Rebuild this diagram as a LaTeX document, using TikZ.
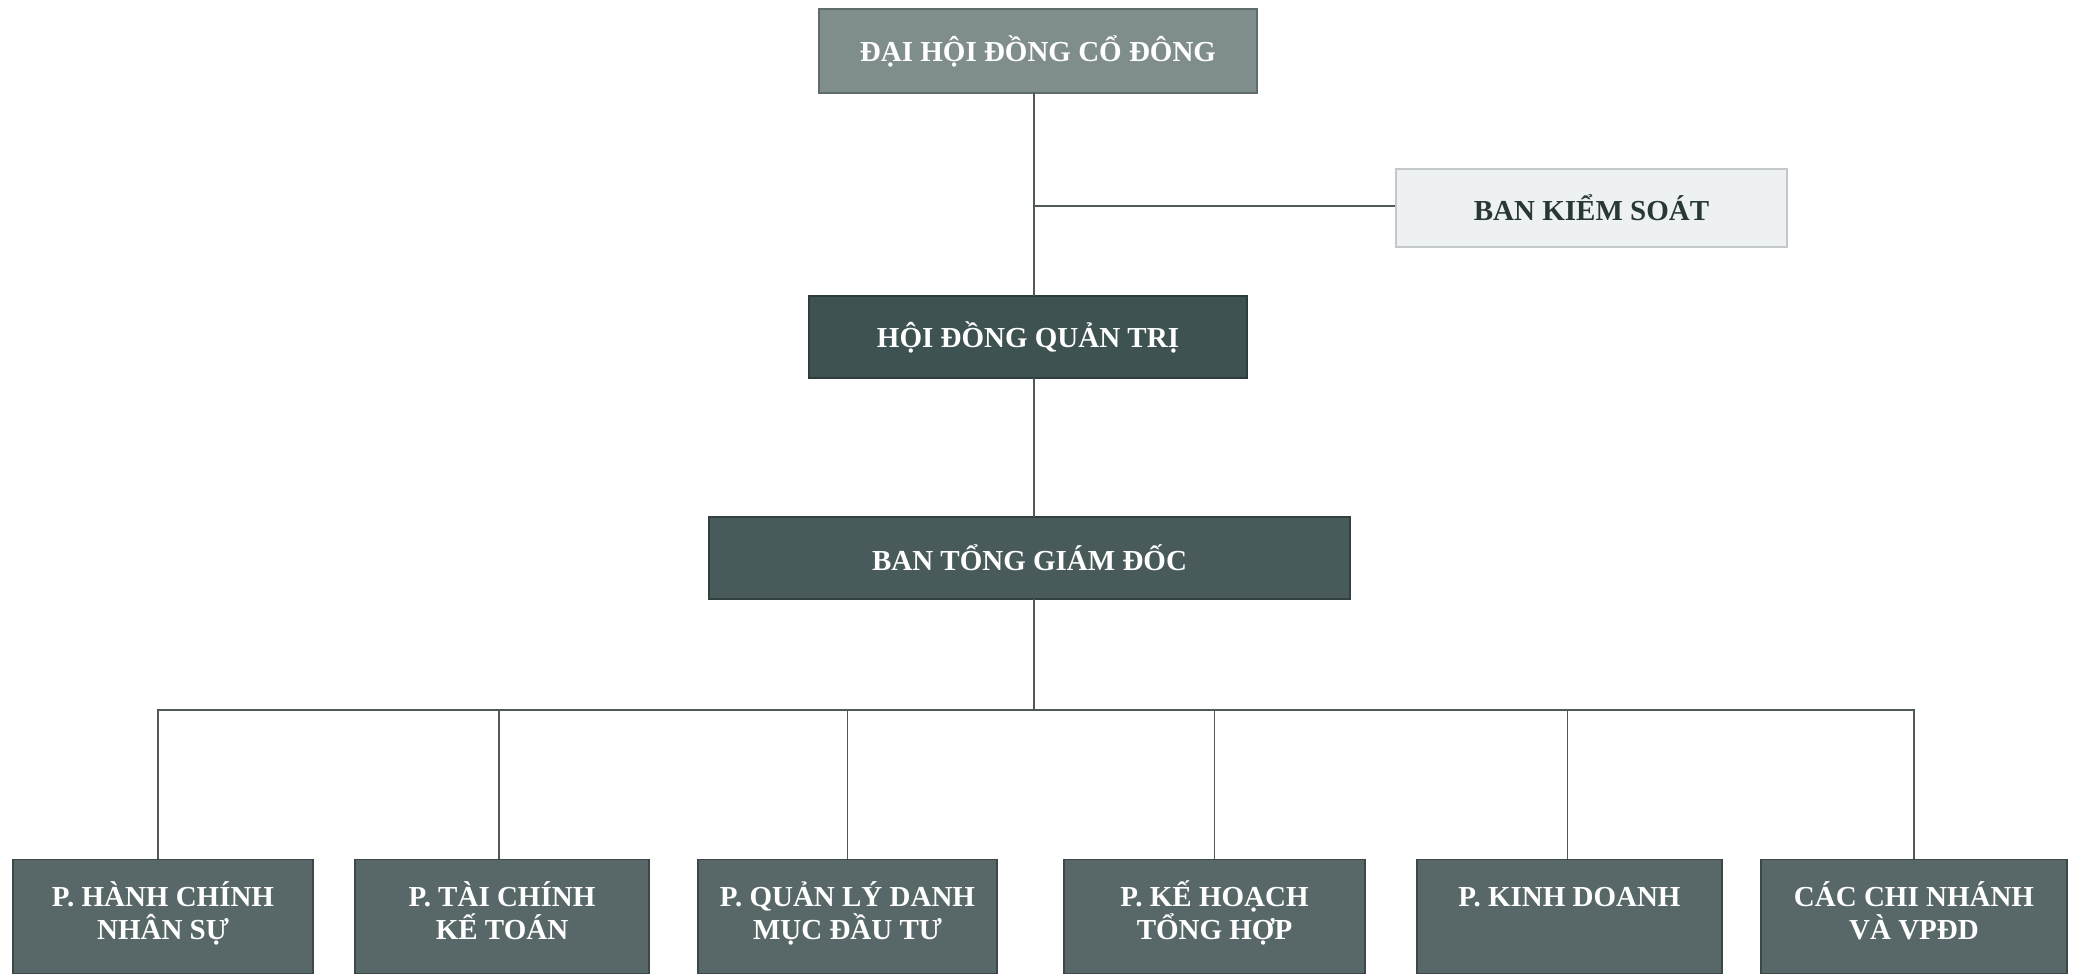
\documentclass[tikz,border=0pt]{standalone}
\usepackage{fontspec}
\setmainfont{Liberation Serif}
\begin{document}
\begin{tikzpicture}[x=1pt,y=-1pt,
  boxbase/.style={rectangle,inner sep=0pt,line width=1.2pt},
  topbox/.style={boxbase,fill=cTop,draw=cTopB},
  ksbox/.style={boxbase,fill=cKS,draw=cKSB},
  hdbox/.style={boxbase,fill=cHD,draw=cHDB},
  tgbox/.style={boxbase,fill=cTG,draw=cTGB},
  depbox/.style={boxbase,fill=cDep,draw=cDepB},
  lbl/.style={font=\fontsize{29}{33}\selectfont\bfseries,text=white,inner sep=0pt,align=center},
  conn/.style={draw=cLine,line width=1.8pt}]
\definecolor{cTop}{RGB}{128,141,141}
\definecolor{cTopB}{RGB}{95,108,108}
\definecolor{cKS}{RGB}{238,241,242}
\definecolor{cKSB}{RGB}{195,200,202}
\definecolor{cHD}{RGB}{62,82,82}
\definecolor{cHDB}{RGB}{45,60,60}
\definecolor{cTG}{RGB}{72,90,90}
\definecolor{cTGB}{RGB}{50,64,64}
\definecolor{cDep}{RGB}{88,104,104}
\definecolor{cDepB}{RGB}{60,72,72}
\definecolor{cLine}{RGB}{80,88,88}
\definecolor{cKSText}{RGB}{40,55,55}
\useasboundingbox[fill=white] (0,0) rectangle (2082,974);

% top level boxes
\node[topbox,minimum width=438pt,minimum height=84pt] (dh) at (1038,51) {};
\node[lbl] (dht) at (dh.center) {ĐẠI HỘI ĐỒNG CỔ ĐÔNG};
\node[ksbox,minimum width=391pt,minimum height=78pt] (ks) at (1591.5,208) {};
\node[lbl,text=cKSText] (kst) at (ks.center) {BAN KIỂM SOÁT};
\node[hdbox,minimum width=438pt,minimum height=82pt] (hd) at (1028,337) {};
\node[lbl] (hdt) at (hd.center) {HỘI ĐỒNG QUẢN TRỊ};
\node[tgbox,minimum width=641pt,minimum height=82pt] (tg) at (1029.5,558) {};
\node[lbl] (tgt) at (tg.center) {BAN TỔNG GIÁM ĐỐC};

% department boxes
\node[depbox,minimum width=300pt,minimum height=114pt,anchor=north] (d1) at (163,859) {};
\node[depbox,minimum width=294pt,minimum height=114pt,anchor=north] (d2) at (502,859) {};
\node[depbox,minimum width=299pt,minimum height=114pt,anchor=north] (d3) at (847.5,859) {};
\node[depbox,minimum width=301pt,minimum height=114pt,anchor=north] (d4) at (1214.5,859) {};
\node[depbox,minimum width=305pt,minimum height=114pt,anchor=north] (d5) at (1569.5,859) {};
\node[depbox,minimum width=306pt,minimum height=114pt,anchor=north] (d6) at (1914,859) {};

% two-line labels: base anchor is the last line's baseline
\node[lbl,anchor=base] (d1t) at ([yshift=-80pt]d1.north) {P. HÀNH CHÍNH\\NHÂN SỰ};
\node[lbl,anchor=base] (d2t) at ([yshift=-80pt]d2.north) {P. TÀI CHÍNH\\KẾ TOÁN};
\node[lbl,anchor=base] (d3t) at ([yshift=-80pt]d3.north) {P. QUẢN LÝ DANH\\MỤC ĐẦU TƯ};
\node[lbl,anchor=base] (d4t) at ([yshift=-80pt]d4.north) {P. KẾ HOẠCH\\TỔNG HỢP};
\node[lbl,anchor=base] (d5t) at ([yshift=-47pt]d5.north) {P. KINH DOANH};
\node[lbl,anchor=base] (d6t) at ([yshift=-80pt]d6.north) {CÁC CHI NHÁNH\\VÀ VPĐD};

% connectors
\coordinate (t1) at (1034,93);
\coordinate (tks) at (1034,206);
\coordinate (t2) at (1034,296);
\coordinate (t3) at (1034,378);
\coordinate (t4) at (1034,517);
\coordinate (t5) at (1034,599);
\coordinate (bus) at (1034,710);
\draw[conn] (t1) -- (t2);
\draw[conn] (tks) -- (tks -| ks.west);
\draw[conn] (t3) -- (t4);
\draw[conn] (t5) -- (bus);
\draw[conn] (bus) -| ([xshift=-5pt]d1.north);
\draw[conn] (bus) -| ([xshift=-3pt]d2.north);
\draw[conn] (bus) -| (d3.north);
\draw[conn] (bus) -| (d4.north);
\draw[conn] (bus) -| ([xshift=-2pt]d5.north);
\draw[conn] (bus) -| (d6.north);
\end{tikzpicture}
\end{document}
